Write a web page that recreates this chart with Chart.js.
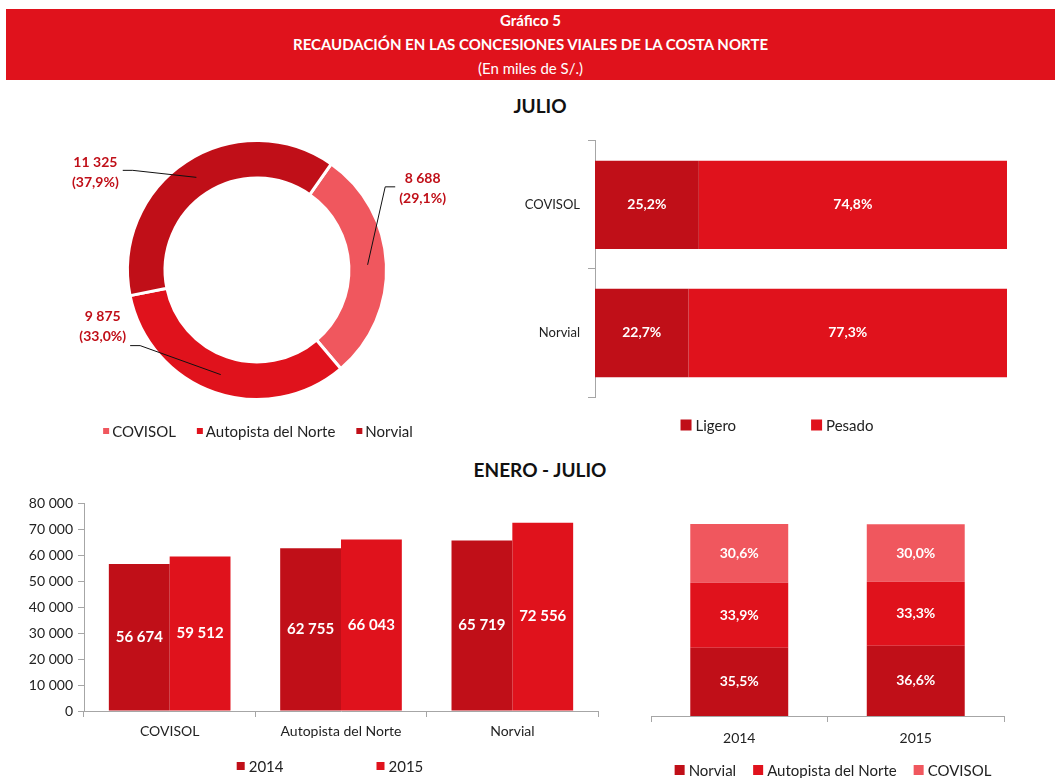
<!DOCTYPE html>
<html>
<head>
<meta charset="utf-8">
<script src="https://cdn.jsdelivr.net/npm/chart.js@4.4.1/dist/chart.umd.min.js"></script>
<style>
body{margin:0;width:1060px;height:778px;background:#fff;font-family:Lato,"Open Sans",sans-serif;position:relative;overflow:hidden}
#banner{position:absolute;left:6px;top:9px;width:1049px;height:71px;background:#E0121C;color:#fff}
#banner div{position:absolute;left:0;width:100%;text-align:center;font-size:15px;line-height:20px}
.title{position:absolute;left:0;width:1080px;text-align:center;font-weight:bold;font-size:19px;color:#111}
.box{position:absolute}
</style>
</head>
<body>
<div id="banner">
  <div style="top:1px;font-weight:bold">Gráfico 5</div>
  <div style="top:25px;font-weight:bold">RECAUDACIÓN EN LAS CONCESIONES VIALES DE LA COSTA NORTE</div>
  <div style="top:49px">(En miles de S/.)</div>
</div>
<div class="title" style="top:94px">JULIO</div>
<div class="title" style="top:458px">ENERO - JULIO</div>

<div class="box" style="left:17px;top:135px;width:480px;height:310px"><canvas id="donutChart"></canvas></div>
<div class="box" style="left:500px;top:125px;width:540px;height:320px"><canvas id="typeChart"></canvas></div>
<div class="box" style="left:0px;top:490px;width:610px;height:288px"><canvas id="yearChart"></canvas></div>
<div class="box" style="left:620px;top:500px;width:440px;height:278px"><canvas id="shareChart"></canvas></div>

<script>
// Julio: recaudación por concesión
const donutLabels = ["COVISOL", "Autopista del Norte", "Norvial"];
const donutValues = [8688, 9875, 11325];

// Julio: tipo de vehículo (%)
const typeCategories = ["COVISOL", "Norvial"];
const ligeroShare = [25.2, 22.7];
const pesadoShare = [74.8, 77.3];

// Enero - Julio: recaudación por año
const yearCategories = ["COVISOL", "Autopista del Norte", "Norvial"];
const values2014 = [56674, 62755, 65719];
const values2015 = [59512, 66043, 72556];

// Enero - Julio: participación (%)
const shareYears = ["2014", "2015"];
const norvialShare = [35.5, 36.6];
const autopistaShare = [33.9, 33.3];
const covisolShare = [30.6, 30.0];

const DARK = "#C00F18";
const MID = "#E0121C";
const LIGHT = "#F0575E";
const AXIS = "#a6a6a6";
const FONT = "Lato, 'Open Sans', sans-serif";

Chart.defaults.font.family = FONT;
Chart.defaults.color = "#222";
Chart.defaults.animation = false;
Chart.defaults.plugins.tooltip.enabled = false;
Chart.defaults.plugins.legend.display = false;

function thousands(n) {
    return n.toString().replace(/\B(?=(\d{3})+(?!\d))/g, " ");
}
function pct(v) {
    return v.toFixed(1).replace(".", ",") + "%";
}

// white labels in the middle of every bar
const barValueLabels = {
    id: "barValueLabels",
    afterDatasetsDraw(chart, args, opts) {
        const ctx = chart.ctx;
        ctx.save();
        ctx.font = "bold " + opts.size + "px " + FONT;
        ctx.fillStyle = "#fff";
        ctx.textAlign = "center";
        ctx.textBaseline = "middle";
        chart.data.datasets.forEach((ds, i) => {
            chart.getDatasetMeta(i).data.forEach((bar, j) => {
                const p = bar.getCenterPoint();
                ctx.fillText(opts.format(ds.data[j]), p.x, p.y);
            });
        });
        ctx.restore();
    }
};

// one-row legend with its own spacing (built-in legend ties gap to height)
const rowLegend = {
    id: "rowLegend",
    afterDraw(chart, args, opts) {
        const ctx = chart.ctx;
        let items;
        if (chart.config.type === "doughnut") {
            const ds = chart.data.datasets[0];
            items = chart.data.labels.map((t, i) => ({ text: t, color: ds.backgroundColor[i] }));
        } else {
            items = chart.data.datasets.map(ds => ({ text: ds.label, color: ds.backgroundColor }));
        }
        ctx.save();
        ctx.font = opts.size + "px " + FONT;
        const widths = items.map(it => opts.box + opts.textGap + ctx.measureText(it.text).width);
        const total = widths.reduce((a, b) => a + b, 0) + opts.gap * (items.length - 1);
        let x = opts.cx - total / 2;
        ctx.textBaseline = "middle";
        ctx.textAlign = "left";
        items.forEach((it, i) => {
            ctx.fillStyle = it.color;
            ctx.fillRect(x, opts.y - opts.box / 2, opts.box, opts.box);
            ctx.fillStyle = "#222";
            ctx.fillText(it.text, x + opts.box + opts.textGap, opts.y + 1);
            x += widths[i] + opts.gap;
        });
        ctx.restore();
    }
};

// outside labels with leader lines for the doughnut
const donutLeaders = {
    id: "donutLeaders",
    afterDatasetsDraw(chart, args, opts) {
        const ctx = chart.ctx;
        const data = chart.data.datasets[0].data;
        const total = data.reduce((a, b) => a + b, 0);
        ctx.save();
        ctx.font = "bold 14px " + FONT;
        chart.getDatasetMeta(0).data.forEach((arc, i) => {
            const a = arc.tooltipPosition();
            const o = opts.offsets[i];
            const tx = a.x + o.dx, ty = a.y + o.dy;
            const l1 = thousands(data[i]);
            const l2 = "(" + pct(data[i] / total * 100) + ")";
            const half = Math.max(ctx.measureText(l1).width, ctx.measureText(l2).width) / 2;
            const dir = o.dx > 0 ? -1 : 1;
            const sx = tx + dir * (half + 4), sy = ty + o.ly;
            ctx.strokeStyle = "#111";
            ctx.lineWidth = 1;
            ctx.beginPath();
            ctx.moveTo(sx, sy);
            ctx.lineTo(sx + dir * 10, sy);
            ctx.lineTo(a.x, a.y);
            ctx.stroke();
            ctx.fillStyle = DARK;
            ctx.textAlign = "center";
            ctx.textBaseline = "middle";
            ctx.fillText(l1, tx, ty - 10);
            ctx.fillText(l2, tx, ty + 10);
        });
        ctx.restore();
    }
};

new Chart(document.getElementById("donutChart"), {
    type: "doughnut",
    data: {
        labels: donutLabels,
        datasets: [{
            data: donutValues,
            backgroundColor: [LIGHT, MID, DARK],
            borderColor: "#fff",
            borderWidth: 3
        }]
    },
    options: {
        responsive: true,
        maintainAspectRatio: false,
        rotation: 35,
        cutout: "71%",
        layout: { padding: { top: 4, bottom: 44 } },
        plugins: {
            rowLegend: { y: 296, cx: 241, box: 6, textGap: 3, gap: 21, size: 15 },
            donutLeaders: {
                offsets: [
                    { dx: 55, dy: -76, ly: -2 },
                    { dx: -118, dy: -48, ly: 19 },
                    { dx: -101, dy: -5, ly: -2 }
                ]
            }
        }
    },
    plugins: [donutLeaders, rowLegend]
});

new Chart(document.getElementById("typeChart"), {
    type: "bar",
    data: {
        labels: typeCategories,
        datasets: [
            { label: "Ligero", data: ligeroShare, backgroundColor: DARK },
            { label: "Pesado", data: pesadoShare, backgroundColor: MID }
        ]
    },
    options: {
        indexAxis: "y",
        responsive: true,
        maintainAspectRatio: false,
        layout: { padding: { top: 13, right: 33, bottom: 48 } },
        datasets: { bar: { categoryPercentage: 1, barPercentage: 0.69 } },
        scales: {
            x: { display: false, stacked: true, min: 0, max: 100 },
            y: {
                stacked: true,
                afterFit(scale) { scale.width = 95; },
                grid: { drawOnChartArea: false, tickLength: 7, color: AXIS },
                border: { color: AXIS },
                ticks: { padding: 8, color: "#222", font: { size: 13 } }
            }
        },
        plugins: {
            rowLegend: { y: 300, cx: 277, box: 11, textGap: 4, gap: 75, size: 15 },
            barValueLabels: { size: 14, format: pct }
        }
    },
    plugins: [barValueLabels, rowLegend]
});

new Chart(document.getElementById("yearChart"), {
    type: "bar",
    data: {
        labels: yearCategories,
        datasets: [
            { label: "2014", data: values2014, backgroundColor: DARK },
            { label: "2015", data: values2015, backgroundColor: MID }
        ]
    },
    options: {
        responsive: true,
        maintainAspectRatio: false,
        layout: { padding: { top: 12, right: 12, bottom: 31 } },
        datasets: { bar: { categoryPercentage: 0.71, barPercentage: 1 } },
        scales: {
            x: {
                afterFit(scale) { scale.height = 36; },
                grid: { drawOnChartArea: false, tickLength: 6, color: AXIS },
                border: { color: AXIS },
                ticks: { padding: 6, color: "#222", font: { size: 14 } }
            },
            y: {
                min: 0,
                max: 80000,
                afterFit(scale) { scale.width = 84; },
                grid: { drawOnChartArea: false, tickLength: 6, color: AXIS },
                border: { color: AXIS },
                ticks: { stepSize: 10000, autoSkip: false, padding: 5, color: "#222", font: { size: 14 }, callback: v => thousands(v) }
            }
        },
        plugins: {
            rowLegend: { y: 276, cx: 330, box: 8, textGap: 4, gap: 93, size: 15 },
            barValueLabels: { size: 15, format: thousands }
        }
    },
    plugins: [barValueLabels, rowLegend]
});

new Chart(document.getElementById("shareChart"), {
    type: "bar",
    data: {
        labels: shareYears,
        datasets: [
            { label: "Norvial", data: norvialShare, backgroundColor: DARK },
            { label: "Autopista del Norte", data: autopistaShare, backgroundColor: MID },
            { label: "COVISOL", data: covisolShare, backgroundColor: LIGHT }
        ]
    },
    options: {
        responsive: true,
        maintainAspectRatio: false,
        layout: { padding: { top: 24, left: 31, right: 56, bottom: 28 } },
        datasets: { bar: { categoryPercentage: 1, barPercentage: 0.555 } },
        scales: {
            x: {
                stacked: true,
                afterFit(scale) { scale.height = 34; },
                grid: { drawOnChartArea: false, tickLength: 6, color: AXIS },
                border: { color: AXIS },
                ticks: { padding: 8, color: "#222", font: { size: 14 } }
            },
            y: { display: false, stacked: true, min: 0, max: 100 }
        },
        plugins: {
            rowLegend: { y: 270, cx: 213, box: 10, textGap: 4, gap: 17, size: 15 },
            barValueLabels: { size: 14, format: pct }
        }
    },
    plugins: [barValueLabels, rowLegend]
});
</script>
</body>
</html>
